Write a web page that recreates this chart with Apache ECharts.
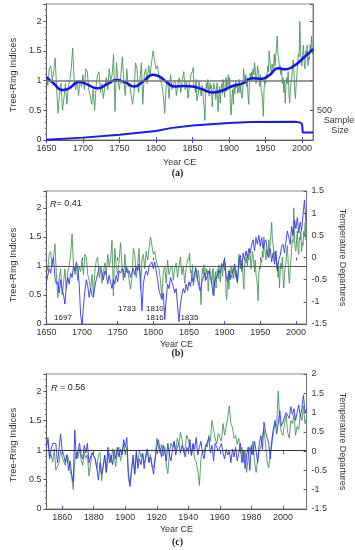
<!DOCTYPE html>
<html><head><meta charset="utf-8">
<script src="https://cdn.jsdelivr.net/npm/echarts@6/dist/echarts.min.js"></script>
<style>html,body{margin:0;padding:0;background:#fff}#c{width:355px;height:550px}</style>
</head><body><div id="c"></div>
<script>
// ---- Tree-ring indices (green), 1650-1848 every 2 years ----
const ringEarlyStart = 1650;
const ringEarly = [
1.05,0.92,1.20,1.25,1.00,1.15,1.38,0.85,0.45,0.80,
0.95,0.50,0.70,0.95,0.60,0.90,1.00,1.20,1.55,1.00,
0.85,1.00,0.75,1.00,0.90,1.10,0.85,1.20,1.15,0.85,
0.75,0.60,0.85,0.50,0.90,1.10,1.15,0.80,0.95,0.70,
0.90,1.05,0.85,1.20,1.00,1.10,1.44,0.48,1.30,1.00,
0.85,1.10,1.40,1.00,0.75,1.20,0.90,0.95,0.75,0.60,
0.80,1.30,1.20,0.80,1.00,1.30,0.60,1.10,1.20,0.95,
1.25,1.10,1.30,1.50,1.35,1.20,1.25,1.10,1.00,0.95,
0.75,0.45,0.90,1.00,0.70,1.10,0.85,0.95,1.00,0.75,
0.95,1.05,0.80,1.00,1.15,0.85,1.00,0.70,0.95,1.10];
// ---- Tree-ring indices (green), 1850-2015 yearly ----
const ringLateStart = 1850;
const ringLate = [
1.16,1.22,0.88,0.92,0.80,1.02,0.66,0.68,0.78,0.98,
1.00,0.80,0.74,0.92,0.86,0.66,0.55,0.33,0.82,0.96,
0.86,1.02,0.84,0.74,0.96,0.86,0.92,0.56,0.76,0.96,
0.90,0.84,0.68,0.92,0.96,0.48,0.72,0.90,0.62,0.85,
0.95,0.78,1.02,0.88,0.72,0.98,1.05,0.82,0.95,1.10,
0.92,1.05,0.50,0.42,0.70,0.85,0.60,0.92,0.78,1.00,
0.88,0.95,0.78,0.85,1.02,0.80,0.92,0.75,0.70,0.88,
1.20,1.05,0.95,1.10,0.90,1.05,0.75,0.60,0.95,1.12,
1.05,1.15,1.00,1.20,1.10,1.30,1.18,0.95,1.05,1.25,
1.18,1.05,0.90,1.10,0.85,0.80,0.65,0.40,0.85,1.00,
0.95,1.10,1.05,1.25,1.15,1.50,1.35,1.20,1.10,1.28,
1.30,1.15,1.45,1.25,1.40,1.55,1.75,1.45,1.38,1.20,
1.25,1.10,1.20,0.95,1.05,0.80,1.00,0.62,0.90,1.05,
0.95,1.15,0.80,0.62,0.85,1.00,1.05,1.25,1.35,1.10,
0.80,0.70,0.95,1.10,1.30,1.45,1.40,2.00,1.50,1.30,
1.25,1.45,1.60,1.30,1.20,1.50,1.45,1.60,1.25,1.40,
1.35,1.60,1.50,1.75,1.45,1.55];
// ---- Smoothed tree-ring curve (panel a) ----
const smoothYears = [1650,1660,1672,1680,1695,1705,1720,1733,1746,1758,1770,1782,1796,1806,1815,1825,1838,1850,1862,1877,1890,1905,1918,1932,1945,1956,1967,1977,1988,2000,2015];
const smoothVals  = [1.06,0.95,0.84,0.86,0.98,0.94,0.87,0.94,1.01,0.97,0.90,0.98,1.10,1.06,0.97,0.90,0.91,0.90,0.86,0.80,0.83,0.91,0.95,1.04,1.03,1.10,1.21,1.19,1.24,1.36,1.53];
// ---- Sample size (panel a) ----
const sampleYears = [1650,1700,1750,1800,1820,1850,1900,1930,1990,1997,2000,2001,2015];
const sampleVals  = [5,40,90,150,200,245,285,305,308,295,270,125,125];
// ---- Temperature departures, panel b, 1650-2014 every 2 years ----
const tempBStart = 1650;
const tempB = [
-0.55,-0.40,-0.25,-0.35,-0.10,0.00,-0.45,-0.60,-0.55,-0.80,
-0.50,-0.70,-0.85,-1.05,-0.60,-0.45,-0.60,-0.35,-0.45,-0.20,
-0.30,-0.10,-0.25,-0.60,-1.30,-1.50,-1.10,-0.75,-0.50,-0.65,
-0.90,-0.70,-0.85,-0.90,-0.65,-0.50,-0.35,-0.25,-0.20,-0.35,
-0.50,-0.30,-0.40,-0.60,-0.40,-0.55,-0.70,-0.50,-0.60,-0.40,
-0.55,-0.30,-0.35,-0.25,-0.30,-0.45,-0.20,-0.35,-0.30,-0.45,
-0.35,-0.25,-0.40,-0.20,-0.30,-0.15,-0.50,-1.20,-0.60,-0.40,
-0.30,-0.40,-0.20,-0.15,-0.10,-0.25,-0.10,-0.30,-0.50,-0.75,
-0.85,-0.95,-0.80,-1.40,-0.95,-0.60,-0.70,-0.45,-0.55,-0.65,
-0.80,-0.70,-1.10,-1.45,-1.05,-0.85,-0.70,-0.80,-0.60,-0.75,
-0.55,-0.65,-0.45,-0.55,-0.35,-0.25,-0.50,-0.65,-0.75,-0.55,
-0.45,-0.35,-0.50,-0.40,-0.30,-0.45,-0.60,-0.85,-0.55,-0.45,
-0.40,-0.30,-0.35,-0.15,-0.20,-0.05,-0.40,-0.55,-0.30,-0.50,
-0.40,-0.30,-0.15,-0.35,-0.55,-0.10,0.05,-0.25,0.10,-0.05,
0.15,0.00,0.20,0.10,0.30,0.40,0.15,0.45,0.30,0.50,
0.25,0.45,0.20,0.35,0.40,0.10,0.00,0.20,-0.10,0.10,
-0.15,0.15,-0.30,-0.05,0.05,0.25,0.30,0.10,0.35,0.60,
0.45,0.30,0.70,0.50,0.85,0.65,0.90,0.55,0.80,0.60,
0.95,1.30,0.80];
// ---- Temperature departures, panel c, 1850-2015 yearly ----
const tempCStart = 1850;
const tempC = [
0.10,0.30,-0.20,0.05,0.20,0.15,0.20,-0.30,0.05,0.45,
0.00,-0.10,-0.30,-0.10,-0.50,-0.25,-0.60,-0.80,0.55,-0.20,
0.00,0.20,-0.10,-0.20,0.15,-0.05,0.20,-0.30,-0.15,-0.05,
0.00,-0.20,-0.45,-0.75,-0.30,-0.60,-0.40,-0.10,-0.55,0.10,
-0.30,-0.10,-0.35,0.00,-0.20,0.10,-0.15,0.05,-0.10,0.30,
0.10,0.35,-0.55,-0.92,-0.50,-0.10,-0.60,0.00,-0.45,-0.20,
-0.35,-0.05,-0.45,-0.10,0.05,-0.30,-0.15,-0.40,-0.60,-0.20,
0.10,0.30,0.05,-0.15,0.15,0.00,-0.25,0.20,-0.10,-0.25,
0.05,0.25,-0.10,0.10,0.20,-0.05,0.15,0.05,-0.15,0.10,
0.00,0.30,-0.10,0.20,0.05,0.35,-0.10,0.10,0.25,-0.05,
-0.20,0.10,0.05,0.35,-0.05,0.15,-0.25,0.20,0.10,0.00,
0.10,0.20,-0.05,-0.20,0.05,-0.10,0.00,-0.30,0.05,-0.15,
0.10,-0.25,-0.05,0.20,-0.30,0.00,-0.45,-0.10,0.10,-0.50,
0.15,-0.10,0.25,0.00,-0.30,0.20,0.40,0.05,0.75,0.50,
0.55,0.20,-0.20,0.30,0.60,0.80,0.45,0.70,1.05,0.65,
0.75,0.90,1.00,1.05,0.85,1.15,0.95,1.10,0.80,1.00,
1.20,0.90,1.10,1.45,1.00,1.10];
// ---- Tick labels ----
const tickYearsAB = [1650,1700,1750,1800,1850,1900,1950,2000];
const tickYearsC = [1860,1880,1900,1920,1940,1960,1980,2000];
const panelLabels = ['(a)','(b)','(c)'];
const rLabels = ['= 0.41',' = 0.56'];
const eventLabels = ['1697','1783','1810-','1816','1835'];

// ---- build pairs ----
const ringData = [];
ringEarly.forEach((v,i)=>ringData.push([ringEarlyStart+2*i, v]));
ringLate.forEach((v,i)=>ringData.push([ringLateStart+i, v]));
const ringDataC = ringData.filter(d=>d[0]>=1850);
const smoothData = smoothYears.map((y,i)=>[y, smoothVals[i]]);
const sampleData = sampleYears.map((y,i)=>[y, sampleVals[i]]);
const tempBData = tempB.map((v,i)=>[tempBStart+2*i, v]);
const tempCData = tempC.map((v,i)=>[tempCStart+i, v]);

const FONT = 'Liberation Sans';
const GREEN = '#4a955a';
const BLUE = '#3434f0';
const grids = [
  {left:35, top:4, width:278, height:136},
  {left:39, top:191, width:276, height:133},
  {left:40, top:374, width:276, height:135}
];
function bottomAxis(gi, min, max, interval, customTicks, nameGap){
  const ax = {type:'value', gridIndex:gi, min:min, max:max, interval:interval,
    name:'Year CE', nameLocation:'middle', nameGap:nameGap,
    nameTextStyle:{fontFamily:FONT, fontSize:9, color:'#333'},
    axisLine:{show:true, lineStyle:{color:'#555', width:1}},
    axisTick:{show:true, inside:true, length:3, lineStyle:{color:'#4a4ae8', width:1}},
    axisLabel:{show:true, fontFamily:FONT, fontSize:9, color:'#333', margin:4,
      formatter:v=>String(v)},
    splitLine:{show:false}};
  if (customTicks){
    ax.axisLabel.customValues = customTicks;
    ax.axisTick.customValues = customTicks;
  }
  return ax;
}
function topAxis(gi, min, max, interval, customTicks){
  const ax = {type:'value', gridIndex:gi, position:'top', min:min, max:max, interval:interval,
    axisLine:{show:false},
    axisTick:{show:true, inside:true, length:3, lineStyle:{color:'#4a4ae8', width:1}},
    axisLabel:{show:false}, splitLine:{show:false}};
  if (customTicks){ ax.axisTick.customValues = customTicks; }
  return ax;
}
function leftAxis(gi, nameGap, shift){
  return {type:'value', gridIndex:gi, min:0, max:2.29, interval:0.5,
    name:'Tree-Ring Indices', nameLocation:'middle', nameRotate:90, nameGap:nameGap,
    nameTextStyle:{fontFamily:FONT, fontSize:9.5, color:'#333', padding:[0,shift,0,0]},
    axisLine:{show:true, lineStyle:{color:'#555', width:1}},
    axisTick:{show:true, inside:false, length:3, lineStyle:{color:'#555'}},
    minorTick:{show:true, splitNumber:5, length:1.5, lineStyle:{color:'#777'}},
    axisLabel:{fontFamily:FONT, fontSize:9, color:'#333', margin:5, showMaxLabel:false},
    splitLine:{show:false}, minorSplitLine:{show:false}};
}
function tempAxis(gi, min, max, nameGap){
  return {type:'value', gridIndex:gi, position:'right', min:min, max:max, interval:0.5,
    name:'Temperature Departures', nameLocation:'middle', nameRotate:-90, nameGap:nameGap,
    nameTextStyle:{fontFamily:FONT, fontSize:9, color:'#333'},
    axisLine:{show:true, lineStyle:{color:'#777', width:1}},
    axisTick:{show:true, inside:true, length:3, lineStyle:{color:'#555'}},
    axisLabel:{fontFamily:FONT, fontSize:9, color:'#333', margin:5},
    splitLine:{show:false}};
}
const hLine = (color,width)=>({silent:true, symbol:['none','none'], label:{show:false},
  lineStyle:{color:color, width:width, type:'solid'}, data:[{yAxis:1}]});

const option = {
  animation:false,
  backgroundColor:'#fff',
  grid: grids.map(g=>Object.assign({show:true, borderColor:'#888', borderWidth:1, backgroundColor:'transparent'}, g)),
  xAxis:[
    bottomAxis(0,1650,2015,50,tickYearsAB,18),
    topAxis(0,1650,2015,50,tickYearsAB),
    bottomAxis(1,1650,2015,50,tickYearsAB,16),
    topAxis(1,1650,2015,50,tickYearsAB),
    bottomAxis(2,1850,2015,10,tickYearsC,16),
    topAxis(2,1850,2015,10,tickYearsC)
  ],
  yAxis:[
    leftAxis(0,25,6),
    {type:'value', gridIndex:0, position:'right', min:0, max:2290, interval:500,
      axisLine:{show:true, lineStyle:{color:'#777'}},
      axisTick:{show:true, inside:true, length:3, lineStyle:{color:'#555'}},
      axisLabel:{fontFamily:FONT, fontSize:9, color:'#333', margin:4,
        formatter:v=> v===500 ? '500' : ''},
      splitLine:{show:false}},
    leftAxis(1,27,15),
    tempAxis(1,-1.5,1.5,28),
    leftAxis(2,27,7),
    tempAxis(2,-1.5,2,28)
  ],
  series:[
    {type:'line', xAxisIndex:0, yAxisIndex:0, data:ringData, showSymbol:false,
      lineStyle:{color:GREEN, width:0.9}, markLine:hLine('#777',1.5), z:2},
    {type:'line', xAxisIndex:0, yAxisIndex:0, data:smoothData, showSymbol:false, smooth:0.5,
      lineStyle:{color:'#1212ee', width:2.5}, z:3},
    {type:'line', xAxisIndex:0, yAxisIndex:1, data:sampleData, showSymbol:false,
      lineStyle:{color:'#1a1aee', width:2}, z:3},

    {type:'line', xAxisIndex:2, yAxisIndex:2, data:ringData, showSymbol:false,
      lineStyle:{color:GREEN, width:0.9}, markLine:hLine('#555',1.2), z:2},
    {type:'line', xAxisIndex:2, yAxisIndex:3, data:tempBData, showSymbol:false,
      lineStyle:{color:BLUE, width:1, opacity:0.9}, z:3},

    {type:'line', xAxisIndex:4, yAxisIndex:4, data:ringDataC, showSymbol:false,
      lineStyle:{color:GREEN, width:0.9}, markLine:hLine('#333',1), z:2},
    {type:'line', xAxisIndex:4, yAxisIndex:5, data:tempCData, showSymbol:false,
      lineStyle:{color:BLUE, width:1, opacity:0.9}, z:3}
  ],
  graphic:[
    {type:'text', left:'center', top:168, style:{text:panelLabels[0], font:'bold 10px "Liberation Serif"', fill:'#222'}},
    {type:'text', left:'center', top:348, style:{text:panelLabels[1], font:'bold 10px "Liberation Serif"', fill:'#222'}},
    {type:'text', left:'center', top:537, style:{text:panelLabels[2], font:'bold 10px "Liberation Serif"', fill:'#222'}},
    {type:'text', x:339, y:121, style:{text:'Sample', font:'9px "Liberation Sans"', fill:'#333', align:'center', verticalAlign:'middle'}},
    {type:'text', x:340, y:131, style:{text:'Size', font:'9px "Liberation Sans"', fill:'#333', align:'center', verticalAlign:'middle'}},
    {type:'text', x:50, y:204, style:{rich:{i:{fontStyle:'italic', fontFamily:FONT, fontSize:9, fill:'#222'}, n:{fontFamily:FONT, fontSize:9, fill:'#222'}},
      text:'{i|R}{n|'+rLabels[0]+'}', verticalAlign:'middle'}},
    {type:'text', x:51, y:388, style:{rich:{i:{fontStyle:'italic', fontFamily:FONT, fontSize:9, fill:'#222'}, n:{fontFamily:FONT, fontSize:9, fill:'#222'}},
      text:'{i|R}{n|'+rLabels[1]+'}', verticalAlign:'middle'}},
    {type:'text', x:63, y:318, style:{text:eventLabels[0], font:'8px "Liberation Sans"', fill:'#222', align:'center', verticalAlign:'middle'}},
    {type:'text', x:127, y:309, style:{text:eventLabels[1], font:'8px "Liberation Sans"', fill:'#222', align:'center', verticalAlign:'middle'}},
    {type:'text', x:146, y:309, style:{text:eventLabels[2], font:'8px "Liberation Sans"', fill:'#222', align:'left', verticalAlign:'middle'}},
    {type:'text', x:146, y:317.5, style:{text:eventLabels[3], font:'8px "Liberation Sans"', fill:'#222', align:'left', verticalAlign:'middle'}},
    {type:'text', x:189.5, y:318, style:{text:eventLabels[4], font:'8px "Liberation Sans"', fill:'#222', align:'center', verticalAlign:'middle'}}
  ]
};
const chart = echarts.init(document.getElementById('c'), null, {renderer:'canvas'});
chart.setOption(option);
</script>
</body></html>
